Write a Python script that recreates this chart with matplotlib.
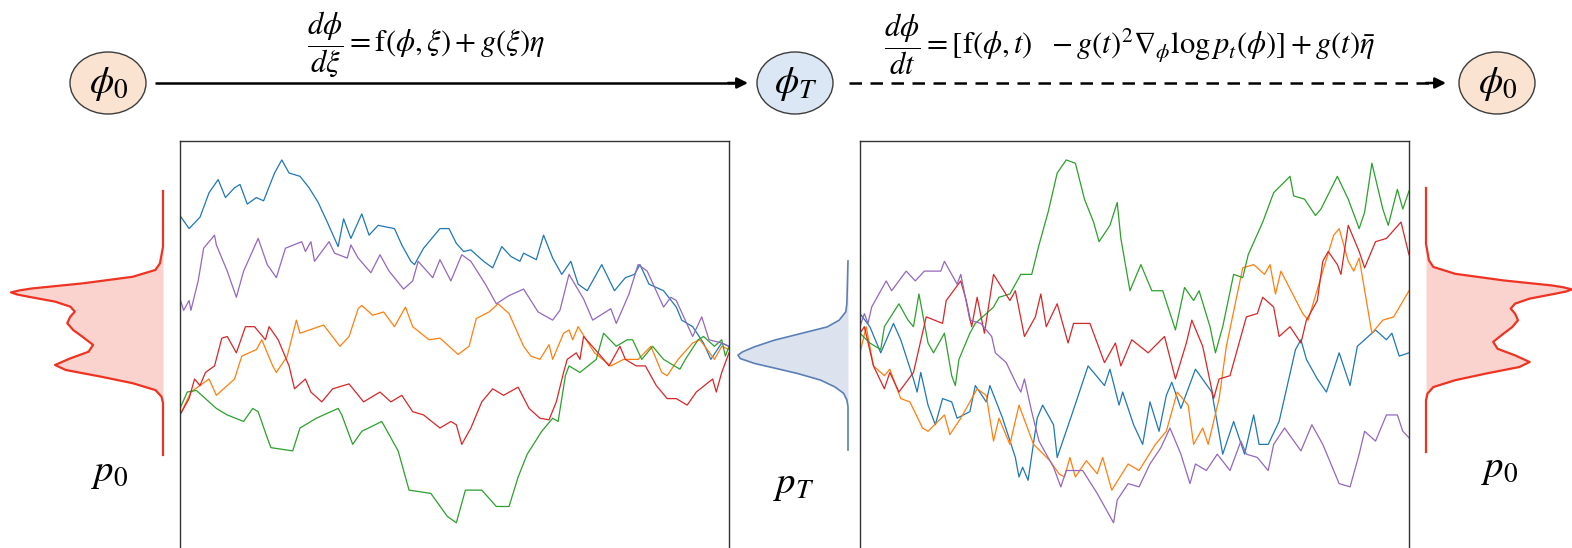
import matplotlib.pyplot as plt
from matplotlib.patches import Ellipse

plt.rcParams['mathtext.fontset'] = 'stix'
plt.rcParams['font.family'] = 'STIXGeneral'

# ---- forward process paths (time step, value) ----
fwd_blue = [(0, 4.05), (25, 3.65), (55, 4.00), (80, 4.75), (105, 5.15), (125, 4.60), (150, 4.90), (165, 5.00),
            (185, 4.40), (210, 4.60), (230, 4.50), (260, 5.35), (280, 5.75), (300, 5.35), (330, 5.25), (355, 4.90),
            (380, 4.45), (405, 3.85), (435, 3.10), (450, 3.95), (470, 3.35), (500, 4.10), (520, 3.45), (545, 3.75),
            (590, 3.65), (610, 3.15), (635, 2.65), (645, 2.55), (670, 3.05), (715, 3.65), (740, 3.65), (760, 3.20),
            (780, 2.95), (800, 3.00), (835, 2.65), (860, 2.45), (885, 3.10), (910, 2.80), (935, 2.65), (945, 2.90),
            (980, 2.70), (1000, 3.45), (1025, 2.75), (1050, 2.25), (1075, 2.65), (1095, 1.95), (1120, 1.75),
            (1145, 2.25), (1160, 2.55), (1195, 1.75), (1225, 2.15), (1250, 2.25), (1265, 2.55), (1290, 1.95),
            (1330, 1.75), (1365, 1.25), (1380, 0.85), (1410, 0.65), (1440, 0.15), (1460, -0.35), (1490, 0.15),
            (1510, 0.05)]
fwd_orange = [(0, -2.05), (30, -1.35), (80, -0.95), (100, -1.45), (150, -0.95), (170, -0.25), (210, -0.05),
              (225, 0.25), (255, -0.55), (265, -0.75), (295, -0.25), (320, 0.85), (330, 0.45), (395, 0.70),
              (440, 0.05), (465, 0.35), (490, 1.20), (500, 1.30), (530, 1.00), (560, 1.10), (590, 0.65), (620, 1.25),
              (640, 0.65), (685, 0.25), (715, 0.30), (765, -0.20), (795, 0.05), (815, 0.90), (850, 1.10), (875, 1.35),
              (905, 1.05), (945, 0.05), (965, -0.25), (990, -0.35), (1015, 0.10), (1025, -0.35), (1055, 0.45),
              (1070, 0.55), (1080, 0.25), (1095, 0.65), (1140, -0.15), (1185, -0.55), (1220, -0.35), (1260, -0.35),
              (1295, 0.05), (1325, -0.75), (1340, -0.85), (1370, -0.35), (1410, 0.15), (1430, 0.25), (1470, -0.35),
              (1490, 0.05), (1510, -0.05)]
fwd_green = [(0, -1.85), (20, -1.35), (45, -1.30), (100, -1.85), (130, -2.05), (175, -2.25), (200, -1.85),
             (215, -1.95), (240, -2.75), (250, -3.05), (310, -3.15), (330, -2.45), (375, -2.15), (435, -1.85),
             (445, -2.05), (475, -2.95), (500, -2.55), (555, -2.25), (585, -2.85), (600, -3.15), (630, -4.35),
             (690, -4.45), (735, -5.15), (760, -5.35), (785, -4.35), (830, -4.35), (870, -4.85), (905, -4.85),
             (930, -3.95), (955, -3.25), (995, -2.55), (1025, -2.15), (1040, -2.25), (1060, -0.85), (1070, -0.55),
             (1100, -0.75), (1145, -0.35), (1165, 0.45), (1200, 0.05), (1230, 0.25), (1245, 0.25), (1270, -0.35),
             (1300, 0.05), (1330, -0.35), (1375, -0.65), (1390, -0.35), (1425, 0.25), (1440, 0.35), (1470, 0.05),
             (1490, 0.25), (1500, -0.25), (1510, 0.05)]
fwd_red = [(0, -2.05), (25, -1.55), (40, -0.95), (55, -1.15), (70, -0.75), (95, -0.55), (115, 0.30), (130, 0.35),
           (155, -0.15), (180, 0.65), (205, 0.65), (235, 0.25), (245, 0.65), (270, 0.25), (300, -0.55), (315, -1.25),
           (345, -0.95), (360, -1.35), (390, -1.65), (420, -1.25), (465, -1.10), (505, -1.65), (550, -1.35),
           (580, -1.65), (610, -1.45), (640, -1.95), (670, -2.05), (715, -2.45), (745, -2.25), (760, -2.35),
           (775, -2.95), (800, -2.45), (830, -1.65), (860, -1.25), (890, -1.45), (930, -1.20), (960, -1.85),
           (990, -2.15), (1015, -2.20), (1035, -1.65), (1055, -0.75), (1065, -0.35), (1090, -0.15), (1100, -0.35),
           (1110, 0.35), (1150, -0.15), (1180, -0.55), (1210, 0.05), (1225, -0.35), (1255, -0.55), (1280, -0.55),
           (1310, -1.15), (1340, -1.55), (1365, -1.55), (1395, -1.75), (1420, -1.35), (1465, -0.95), (1475, -1.35),
           (1490, -0.75), (1510, -0.15)]
fwd_purple = [(0, 1.50), (10, 1.15), (25, 1.45), (30, 1.15), (50, 2.05), (65, 3.05), (95, 3.45), (100, 3.15),
              (130, 2.35), (155, 1.55), (175, 2.35), (215, 3.35), (240, 2.55), (265, 2.15), (290, 3.05), (335, 3.25),
              (345, 2.95), (360, 3.25), (370, 2.65), (410, 3.25), (425, 2.90), (460, 2.75), (470, 3.15), (490, 2.75),
              (525, 2.30), (550, 2.85), (575, 2.35), (615, 1.80), (640, 2.05), (655, 2.65), (695, 2.15), (715, 2.70),
              (745, 2.05), (775, 2.85), (800, 2.65), (840, 1.95), (870, 1.35), (905, 1.60), (945, 1.80), (985, 1.10),
              (1025, 0.85), (1045, 1.15), (1070, 2.25), (1110, 1.50), (1135, 0.85), (1185, 1.20), (1200, 0.75),
              (1235, 1.65), (1260, 2.55), (1285, 2.35), (1330, 1.25), (1350, 1.55), (1365, 1.45), (1410, 0.35),
              (1435, 0.95), (1455, 0.25), (1490, 0.15), (1510, 0.05)]

# ---- reverse process paths ----
rev_blue = [(0, 0.40), (27, 0.00), (57, -0.80), (92, 0.10), (112, -0.40), (147, -1.60), (157, -2.00), (167, -1.40),
            (187, -2.40), (207, -3.00), (227, -2.20), (252, -2.30), (267, -2.80), (302, -2.60), (317, -1.80),
            (347, -2.30), (357, -1.80), (392, -2.80), (427, -4.00), (437, -4.60), (447, -4.30), (462, -4.70),
            (487, -2.80), (502, -2.40), (532, -3.00), (542, -4.00), (582, -2.70), (627, -1.20), (672, -1.80),
            (687, -1.30), (712, -2.40), (722, -2.00), (752, -3.00), (777, -3.60), (797, -2.30), (822, -3.20),
            (842, -2.10), (857, -1.70), (882, -2.50), (922, -1.30), (967, -2.00), (997, -3.90), (1027, -2.90),
            (1057, -3.90), (1082, -2.70), (1097, -3.60), (1122, -3.60), (1152, -2.90), (1197, -0.70), (1212, -0.40),
            (1227, -1.00), (1257, -1.60), (1282, -2.00), (1317, -0.80), (1347, -1.80), (1367, -0.60), (1417, -0.10),
            (1447, -0.40), (1462, -0.20), (1482, -0.90), (1509, -0.80)]
rev_orange = [(0, -0.80), (17, 0.00), (37, -1.20), (67, -1.50), (82, -1.30), (112, -2.20), (137, -2.30), (172, -3.10),
              (187, -3.20), (232, -2.70), (247, -3.30), (277, -2.80), (322, -1.90), (347, -2.10), (367, -3.50),
              (382, -2.80), (412, -3.60), (437, -2.40), (477, -3.60), (522, -4.10), (547, -4.50), (562, -4.60),
              (577, -4.00), (592, -4.60), (622, -4.10), (652, -4.50), (667, -4.00), (692, -5.00), (737, -4.20),
              (767, -4.40), (812, -3.60), (842, -3.20), (872, -2.00), (902, -2.40), (917, -3.60), (942, -3.10),
              (957, -3.60), (987, -2.20), (1007, -0.60), (1037, 1.00), (1052, 1.80), (1082, 1.90), (1112, 1.60),
              (1127, 1.90), (1142, 1.00), (1157, 1.70), (1217, 0.40), (1232, 0.20), (1272, 1.70), (1302, 2.80),
              (1317, 3.00), (1342, 2.00), (1357, 1.70), (1372, 2.10), (1407, -0.20), (1437, 0.20), (1467, 0.30),
              (1509, 1.10)]
rev_green = [(0, -0.20), (27, -0.50), (57, -0.70), (67, 0.00), (107, 0.70), (132, 0.20), (147, 0.00), (162, 1.00),
             (187, -0.50), (202, -0.80), (232, -0.20), (252, -1.50), (262, -1.80), (272, -1.00), (302, -0.20),
             (317, 0.10), (367, 0.60), (382, 0.90), (412, 1.00), (442, 1.60), (472, 1.60), (492, 2.50), (517, 3.50),
             (542, 4.70), (567, 5.10), (592, 5.00), (617, 3.90), (642, 3.20), (657, 2.60), (687, 3.10), (707, 3.80),
             (717, 2.70), (742, 1.10), (772, 1.90), (802, 1.10), (832, 1.10), (867, -0.10), (892, 1.20), (917, 0.80),
             (932, 1.10), (962, 0.00), (977, -0.80), (997, 0.00), (1027, 1.60), (1052, 1.50), (1067, 2.20),
             (1107, 3.20), (1137, 4.10), (1182, 4.60), (1192, 4.00), (1222, 3.90), (1252, 3.40), (1267, 3.60),
             (1312, 4.60), (1342, 3.90), (1372, 3.00), (1387, 3.50), (1407, 5.00), (1437, 3.60), (1452, 3.10),
             (1477, 4.20), (1492, 3.60), (1509, 4.15)]
rev_red = [(0, -0.20), (12, 0.00), (37, -1.20), (67, -1.90), (82, -1.40), (107, -2.00), (147, -1.40), (182, 0.30),
           (227, 0.10), (237, 0.80), (277, 1.40), (292, 0.80), (307, 0.00), (322, 0.90), (342, -0.20), (367, 1.60),
           (412, 0.80), (427, 1.10), (452, -0.30), (482, 0.30), (497, 1.00), (512, 0.00), (542, 0.70), (572, -0.50),
           (587, 0.10), (632, 0.10), (672, -1.10), (702, -0.50), (717, -1.20), (747, -0.40), (792, -0.80),
           (837, -0.30), (867, -1.60), (897, -0.50), (912, 0.20), (942, -0.60), (972, -2.20), (987, -1.60),
           (1017, -1.50), (1062, 0.30), (1092, 0.40), (1107, 0.90), (1137, 0.60), (1152, -0.30), (1182, 0.00),
           (1212, -0.50), (1227, 0.20), (1257, 0.80), (1272, 2.00), (1287, 2.30), (1312, 1.90), (1322, 1.60),
           (1342, 3.10), (1372, 2.30), (1387, 1.80), (1417, 2.60), (1447, 2.70), (1487, 3.20), (1509, 2.20)]
rev_purple = [(0, 0.00), (12, 0.40), (22, 0.10), (32, 0.60), (62, 1.20), (72, 1.40), (87, 1.10), (127, 1.70),
              (152, 1.40), (177, 1.70), (222, 1.70), (232, 2.00), (267, 1.30), (277, 1.60), (302, 0.20), (332, 0.10),
              (362, -0.30), (372, -0.80), (402, -1.10), (432, -1.80), (442, -2.00), (452, -1.60), (472, -2.60),
              (492, -3.50), (532, -4.30), (552, -4.90), (567, -4.40), (612, -4.40), (652, -5.10), (672, -5.50),
              (697, -6.00), (707, -5.30), (737, -4.80), (767, -4.90), (797, -4.20), (827, -3.70), (852, -3.10),
              (882, -3.90), (907, -4.80), (922, -4.20), (952, -4.40), (982, -3.90), (1017, -4.40), (1047, -3.50),
              (1062, -3.90), (1092, -4.00), (1122, -4.40), (1137, -3.60), (1167, -3.10), (1212, -3.80),
              (1242, -3.00), (1272, -3.60), (1317, -4.80), (1347, -4.90), (1372, -3.90), (1387, -3.20),
              (1417, -3.50), (1447, -2.70), (1477, -2.70), (1492, -3.20), (1509, -3.40)]

# ---- densities: (position, density) ----
p0_curve = [(10.00, 0.0), (7.89, 0.0), (7.26, 0.02), (7.01, 0.05), (6.75, 0.20), (6.50, 0.53), (6.31, 0.86),
            (6.24, 0.94), (6.16, 1.00), (6.08, 0.96), (5.99, 0.88), (5.81, 0.71), (5.62, 0.61), (5.43, 0.58),
            (5.24, 0.61), (4.99, 0.63), (4.73, 0.59), (4.48, 0.53), (4.17, 0.46), (3.91, 0.49), (3.66, 0.61),
            (3.41, 0.71), (3.22, 0.64), (2.97, 0.41), (2.72, 0.20), (2.46, 0.05), (2.21, 0.01), (1.96, 0.0),
            (0.00, 0.0)]
pT_curve = [(10.00, 0.0), (7.75, 0.01), (7.31, 0.02), (6.87, 0.08), (6.51, 0.19), (6.16, 0.43), (5.81, 0.67),
            (5.46, 0.85), (5.19, 0.96), (5.02, 1.00), (4.84, 0.98), (4.58, 0.85), (4.31, 0.65), (4.05, 0.46),
            (3.70, 0.25), (3.34, 0.12), (3.00, 0.04), (2.64, 0.01), (2.29, 0.0), (0.00, 0.0)]

path_colors = ['#1f77b4', '#ff7f0e', '#2ca02c', '#d62728', '#9467bd']

W, H = 1572, 548
fig = plt.figure(figsize=(W / 100, H / 100), dpi=100)


def rect(x0, y0, x1, y1):
    return [x0 / W, 1 - y1 / H, (x1 - x0) / W, (y1 - y0) / H]


# canvas for nodes, arrows and equations
base = fig.add_axes([0, 0, 1, 1])
base.set_xlim(0, W)
base.set_ylim(H, 0)
base.axis('off')

peach, lightblue = '#FBE3D2', '#DCE7F5'
for cx, fc, lab in [(108, peach, r'$\phi_0$'), (795, lightblue, r'$\phi_T$'), (1497, peach, r'$\phi_0$')]:
    base.add_patch(Ellipse((cx, 83), 76, 62, fc=fc, ec='#3c3c3c', lw=1.0))
    base.text(cx + 1, 84, lab, fontsize=28, ha='center', va='center')

# forward arrow (solid)
base.plot([155, 735], [83, 83], color='black', lw=1.8, solid_capstyle='butt')
base.annotate('', xy=(748, 83), xytext=(728, 83),
              arrowprops=dict(arrowstyle='-|>', color='black', lw=1.8, mutation_scale=16, shrinkA=0, shrinkB=0))
# reverse arrow (dashed)
base.plot([849, 1432], [83, 83], color='black', lw=1.8, ls=(0, (5, 3.4)), solid_capstyle='butt')
base.annotate('', xy=(1446, 83), xytext=(1426, 83),
              arrowprops=dict(arrowstyle='-|>', color='black', lw=1.8, mutation_scale=16, shrinkA=0, shrinkB=0))

base.text(426, 44, r'$\dfrac{d\phi}{d\xi} = \mathrm{f}(\phi, \xi) + g(\xi)\eta$', fontsize=22,
          ha='center', va='center')
base.text(1130, 44, r'$\dfrac{d\phi}{dt} = [\mathrm{f}(\phi, t)\ \ - g(t)^2\nabla_{\phi}\mathrm{log}\,p_t(\phi)] + g(t)\bar{\eta}$',
          fontsize=22, ha='center', va='center')

base.text(110, 474, r'$p_0$', fontsize=28, ha='center', va='center')
base.text(794, 486, r'$p_T$', fontsize=28, ha='center', va='center')
base.text(1500, 470, r'$p_0$', fontsize=28, ha='center', va='center')


def draw_paths(ax, paths, xmax, ylim):
    for path, col in zip(paths, path_colors):
        t, v = zip(*path)
        ax.plot(t, v, color=col, lw=0.9)
    ax.set_xlim(0, xmax)
    ax.set_ylim(*ylim)
    ax.set_xticks([])
    ax.set_yticks([])
    ax.spines['bottom'].set_visible(False)
    for s in ['top', 'left', 'right']:
        ax.spines[s].set_color('#333333')
        ax.spines[s].set_linewidth(1.0)


ax_fwd = fig.add_axes(rect(180, 141, 729, 548))
draw_paths(ax_fwd, [fwd_blue, fwd_orange, fwd_green, fwd_red, fwd_purple], 1510, (-6.12, 6.33))
ax_rev = fig.add_axes(rect(860, 141, 1409, 548))
draw_paths(ax_rev, [rev_blue, rev_orange, rev_green, rev_red, rev_purple], 1509, (-6.77, 5.68))


def draw_density(box, curve, line_col, fill_col, flip, lw):
    ax = fig.add_axes(rect(*box))
    s, d = zip(*curve)
    ax.fill_betweenx(s, 0, d, color=fill_col, lw=0)
    ax.plot(d, s, color=line_col, lw=lw, clip_on=False)
    ax.set_xlim((1, 0) if flip else (0, 1))
    ax.set_ylim(0, 10)
    ax.axis('off')


draw_density((11, 191, 163, 455), p0_curve, '#EE3322', '#FBD3CE', True, 1.6)
draw_density((1426, 188, 1572, 452), p0_curve, '#EE3322', '#FBD3CE', False, 1.6)
draw_density((738, 261, 848, 450), pT_curve, '#5B7FB5', '#DCE3EF', True, 1.2)

fig.savefig('out.png', dpi=100)
